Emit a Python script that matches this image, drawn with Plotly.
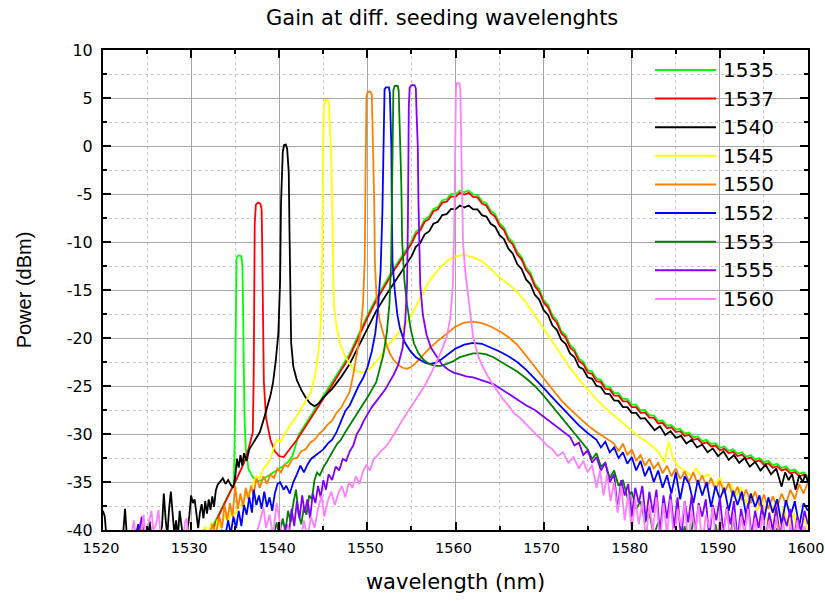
import plotly.graph_objects as go

# ---------------------------------------------------------------------------
# Measured output spectra (wavelength in nm, power in dBm), one per seed line
# ---------------------------------------------------------------------------
spec_1535 = [
    (1531.5, -41.0), (1532.0, -40.3), (1532.5, -39.5), (1533.0, -38.6), (1533.5, -37.7),
    (1534.0, -36.8), (1534.5, -35.9), (1534.85, -35.2), (1534.95, -30.0), (1535.02, -20.0),
    (1535.08, -13.5), (1535.15, -11.7), (1535.3, -11.45), (1535.5, -11.4), (1535.7, -11.5),
    (1535.82, -12.5), (1535.88, -16.0), (1535.95, -22.0), (1536.05, -28.0), (1536.2, -31.5),
    (1536.5, -33.6), (1537.0, -34.5), (1537.5, -34.9), (1538.0, -34.8), (1538.5, -34.5),
    (1539.0, -34.2), (1539.5, -33.9), (1540.0, -33.6), (1540.5, -33.3), (1541.0, -32.9),
    (1541.5, -32.3), (1542.2, -30.1), (1543, -28.95), (1544, -27.55), (1545, -26.15),
    (1546, -24.65), (1547, -23.15), (1548, -21.65), (1549, -19.65), (1550, -17.65),
    (1551, -15.85), (1552, -14.25), (1553, -12.75), (1554, -11.35), (1555, -9.95),
    (1555.5, -8.95), (1556, -8.55), (1556.5, -7.65), (1557, -7.35), (1557.5, -6.55),
    (1558, -6.35), (1558.5, -5.65), (1559, -5.55), (1559.5, -5.0), (1560, -5.05),
    (1560.5, -4.63), (1561, -4.8), (1561.5, -4.63), (1562, -5.05), (1562.5, -5.1),
    (1563, -5.75), (1563.5, -5.95), (1564, -6.75), (1564.5, -7.1), (1565, -8.05),
    (1565.5, -8.5), (1566, -9.55), (1566.5, -10.0), (1567, -11.05), (1567.5, -11.55),
    (1568, -12.65), (1568.5, -13.2), (1569, -14.35), (1569.5, -14.9), (1570, -16.05),
    (1570.5, -16.55), (1571, -17.65), (1571.5, -18.15), (1572, -19.25), (1572.5, -19.7),
    (1573, -20.75), (1573.5, -21.15), (1574, -22.15), (1574.5, -22.45), (1575, -23.35),
    (1575.5, -23.5), (1576, -24.25), (1576.5, -24.35), (1577, -25.05), (1577.5, -25.1),
    (1578, -25.75), (1578.5, -25.75), (1579, -26.35), (1579.5, -26.35), (1580, -26.95),
    (1580.5, -26.95), (1581, -27.55), (1581.5, -27.5), (1582, -28.05), (1582.5, -28.05),
    (1583, -28.65), (1583.5, -28.6), (1584, -29.15), (1584.5, -29.05), (1585, -29.55),
    (1585.5, -29.45), (1586, -29.95), (1586.5, -29.85), (1587, -30.35), (1587.5, -30.25),
    (1588, -30.75), (1588.5, -30.6), (1589, -31.05), (1589.5, -30.95), (1590, -31.45),
    (1590.5, -31.3), (1591, -31.75), (1591.5, -31.6), (1592, -32.05), (1592.5, -31.9),
    (1593, -32.35), (1593.5, -32.2), (1594, -32.65), (1594.5, -32.5), (1595, -32.95),
    (1595.5, -32.8), (1596, -33.25), (1596.5, -33.1), (1597, -33.55), (1597.5, -33.4),
    (1598, -33.85), (1598.5, -33.7), (1599, -34.15), (1599.5, -34.0), (1600, -34.45),
]

spec_1537 = [
    (1532.0, -41.0), (1532.5, -39.8), (1533.0, -38.8), (1533.5, -37.8), (1534.0, -36.8),
    (1534.5, -35.9), (1535.0, -35.0), (1535.5, -34.0), (1536.0, -33.0), (1536.5, -31.6),
    (1537.0, -29.8), (1537.1, -24.0), (1537.15, -15.0), (1537.22, -8.0), (1537.35, -6.1),
    (1537.6, -5.9), (1537.85, -6.0), (1538.0, -6.6), (1538.05, -9.5), (1538.1, -14.0),
    (1538.15, -19.0), (1538.25, -24.5), (1538.5, -28.3), (1539.0, -30.6), (1539.5, -31.8),
    (1540.0, -32.3), (1540.5, -32.4), (1541, -31.8), (1542, -30.6), (1543, -29.2),
    (1544, -27.8), (1545, -26.4), (1546, -24.9), (1547, -23.4), (1548, -21.9),
    (1549, -19.9), (1550, -17.9), (1551, -16.1), (1552, -14.5), (1553, -13.0),
    (1554, -11.6), (1555, -10.2), (1555.5, -9.2), (1556, -8.8), (1556.5, -7.9),
    (1557, -7.6), (1557.5, -6.8), (1558, -6.6), (1558.5, -5.9), (1559, -5.8),
    (1559.5, -5.25), (1560, -5.3), (1560.5, -4.88), (1561, -5.05), (1561.5, -4.88),
    (1562, -5.3), (1562.5, -5.35), (1563, -6.0), (1563.5, -6.2), (1564, -7.0),
    (1564.5, -7.35), (1565, -8.3), (1565.5, -8.75), (1566, -9.8), (1566.5, -10.25),
    (1567, -11.3), (1567.5, -11.8), (1568, -12.9), (1568.5, -13.45), (1569, -14.6),
    (1569.5, -15.15), (1570, -16.3), (1570.5, -16.8), (1571, -17.9), (1571.5, -18.4),
    (1572, -19.5), (1572.5, -19.95), (1573, -21.0), (1573.5, -21.4), (1574, -22.4),
    (1574.5, -22.7), (1575, -23.6), (1575.5, -23.75), (1576, -24.5), (1576.5, -24.6),
    (1577, -25.3), (1577.5, -25.35), (1578, -26.0), (1578.5, -26.0), (1579, -26.6),
    (1579.5, -26.6), (1580, -27.2), (1580.5, -27.2), (1581, -27.8), (1581.5, -27.75),
    (1582, -28.3), (1582.5, -28.3), (1583, -28.9), (1583.5, -28.85), (1584, -29.4),
    (1584.5, -29.3), (1585, -29.8), (1585.5, -29.7), (1586, -30.2), (1586.5, -30.1),
    (1587, -30.6), (1587.5, -30.5), (1588, -31.0), (1588.5, -30.85), (1589, -31.3),
    (1589.5, -31.2), (1590, -31.7), (1590.5, -31.55), (1591, -32.0), (1591.5, -31.85),
    (1592, -32.3), (1592.5, -32.15), (1593, -32.6), (1593.5, -32.45), (1594, -32.9),
    (1594.5, -32.75), (1595, -33.2), (1595.5, -33.05), (1596, -33.5), (1596.5, -33.35),
    (1597, -33.8), (1597.5, -33.65), (1598, -34.1), (1598.5, -33.95), (1599, -34.4),
    (1599.5, -34.25), (1600, -34.7),
]

spec_1540 = [
    (1520.0, -38.0), (1520.2, -38.6), (1520.4, -40.8), (1521.0, -41.5), (1522.0, -41.2),
    (1522.3, -40.2), (1522.5, -37.8), (1522.7, -40.5), (1523.2, -41.5), (1524.5, -41.5),
    (1525.1, -40.6), (1525.3, -39.1), (1525.5, -40.8), (1526.3, -41.2), (1526.7, -39.6),
    (1526.9, -36.2), (1527.1, -38.8), (1527.3, -40.6), (1527.5, -37.8), (1527.7, -36.0),
    (1527.9, -38.3), (1528.1, -40.4), (1528.3, -39.0), (1528.5, -40.8), (1528.7, -38.0),
    (1528.9, -39.8), (1529.1, -41.0), (1529.5, -40.6), (1529.8, -38.5), (1530.0, -36.4),
    (1530.2, -37.2), (1530.4, -36.8), (1530.6, -38.1), (1530.8, -39.8), (1531.0, -38.2),
    (1531.2, -37.3), (1531.4, -38.8), (1531.6, -37.0), (1531.8, -38.3), (1532.0, -36.8),
    (1532.2, -37.9), (1532.4, -36.5), (1532.6, -37.6), (1532.8, -35.9), (1533.0, -35.3),
    (1533.3, -35.0), (1533.6, -34.6), (1533.9, -35.2), (1534.2, -34.8), (1534.5, -35.3),
    (1534.8, -35.6), (1535.0, -34.5), (1535.2, -32.6), (1535.4, -33.5), (1535.6, -32.2),
    (1535.8, -33.3), (1536.0, -32.0), (1536.3, -32.8), (1536.6, -31.6), (1537.0, -31.0),
    (1537.4, -30.4), (1537.8, -29.8), (1538.2, -28.6), (1538.6, -27.4), (1539.0, -26.0),
    (1539.3, -24.6), (1539.6, -22.4), (1539.9, -19.5), (1540.1, -14.0), (1540.2, -6.0),
    (1540.3, -2.8), (1540.4, -0.6), (1540.55, 0.1), (1540.75, 0.15), (1540.9, -0.3),
    (1541.0, -2.0), (1541.08, -2.8), (1541.15, -8.0), (1541.22, -15.0), (1541.35, -20.5),
    (1541.6, -23.0), (1542.0, -24.4), (1542.5, -25.4), (1543.0, -26.2), (1543.5, -26.8),
    (1544.0, -27.1), (1544.5, -26.8), (1545.0, -26.2), (1546, -25.3), (1547, -24.1),
    (1548, -22.7), (1549, -20.9), (1550, -19.0), (1551, -17.2), (1552, -15.7),
    (1553, -14.3), (1554, -12.9), (1555, -11.5), (1555.5, -10.5), (1556, -10.1),
    (1556.5, -9.2), (1557, -8.9), (1557.5, -8.1), (1558, -7.9), (1558.5, -7.2),
    (1559, -7.1), (1559.5, -6.55), (1560, -6.6), (1560.5, -6.2), (1561, -6.4),
    (1561.5, -6.2), (1562, -6.6), (1562.5, -6.6), (1563, -7.2), (1563.5, -7.35),
    (1564, -8.1), (1564.5, -8.4), (1565, -9.3), (1565.5, -9.7), (1566, -10.7),
    (1566.5, -11.2), (1567, -12.3), (1567.5, -12.8), (1568, -13.9), (1568.5, -14.4),
    (1569, -15.5), (1569.5, -16.0), (1570, -17.1), (1570.5, -17.6), (1571, -18.7),
    (1571.5, -19.15), (1572, -20.2), (1572.5, -20.6), (1573, -21.6), (1573.5, -22.0),
    (1574, -23.0), (1574.5, -23.25), (1575, -24.1), (1575.5, -24.25), (1576, -25.0),
    (1576.5, -25.1), (1577, -25.8), (1577.5, -25.85), (1578, -26.5), (1578.5, -26.55),
    (1579, -27.2), (1579.5, -27.2), (1580, -27.8), (1580.5, -27.8), (1581, -28.4),
    (1581.5, -28.35), (1582, -28.9),
    (1582.6, -29.6), (1583.2, -29.2), (1583.8, -30.1), (1584.4, -29.7), (1585.0, -30.4),
    (1585.6, -30.2), (1586.2, -31.0), (1586.8, -30.6), (1587.4, -31.4), (1588.0, -31.1),
    (1588.6, -31.9), (1589.2, -31.5), (1589.8, -32.3), (1590.4, -31.8), (1591.0, -32.7),
    (1591.6, -32.2), (1592.2, -33.0), (1592.8, -32.5), (1593.4, -33.4), (1594.0, -32.9),
    (1594.6, -33.8), (1595.2, -33.2), (1595.8, -34.2), (1596.4, -33.6), (1597.0, -35.5),
    (1597.4, -34.0), (1597.8, -34.8), (1598.2, -34.2), (1598.6, -35.8), (1599.0, -34.3),
    (1599.4, -35.0), (1599.7, -34.2), (1600.0, -35.0),
]

spec_1545 = [
    (1530.5, -41.5), (1531.2, -40.8), (1531.6, -39.6), (1531.9, -40.8), (1532.3, -39.2),
    (1532.6, -40.4), (1533.0, -38.9), (1533.4, -39.8), (1533.8, -38.4), (1534.2, -39.2),
    (1534.6, -37.8), (1535.0, -38.4), (1535.4, -37.2), (1535.8, -37.6), (1536.2, -36.4),
    (1536.6, -36.0), (1537.0, -35.2), (1537.4, -34.4), (1537.8, -34.6), (1538.2, -33.6),
    (1538.6, -33.2), (1539.0, -32.6), (1539.4, -31.4), (1539.7, -30.6), (1540.1, -30.8),
    (1540.5, -30.2), (1541.0, -29.4), (1541.5, -28.7), (1542.0, -28.1), (1542.5, -27.3),
    (1543.0, -26.6), (1543.5, -25.8), (1544.0, -24.2), (1544.3, -22.5), (1544.6, -20.0),
    (1544.8, -17.0), (1544.88, -10.0), (1544.93, -3.0), (1545.0, 1.5), (1545.08, 4.3),
    (1545.25, 4.8), (1545.5, 4.8), (1545.65, 4.3), (1545.8, 1.0), (1545.9, -0.8),
    (1546.0, -6.0), (1546.07, -12.0), (1546.2, -16.5), (1546.5, -18.8), (1546.9, -20.6),
    (1547.4, -21.8), (1548.0, -22.7), (1548.5, -23.3), (1549.0, -23.5), (1549.5, -23.6),
    (1550.0, -23.4), (1550.5, -23.0), (1551.0, -22.5), (1551.5, -21.9), (1552, -21.1),
    (1553, -20.1), (1554, -19.0), (1555, -17.6), (1556, -15.8), (1557, -14.1),
    (1558, -12.9), (1559, -12.0), (1560, -11.5), (1561, -11.35), (1562, -11.6),
    (1563, -12.0), (1564, -12.8), (1565, -13.7), (1566, -14.4), (1567, -15.2),
    (1568, -16.3), (1569, -17.6), (1570, -19.0), (1571, -20.4), (1572, -21.8),
    (1573, -23.1), (1574, -24.3), (1575, -25.4), (1576, -26.4), (1577, -27.3),
    (1578, -28.1), (1579, -28.9), (1580, -29.7), (1581, -30.4), (1582, -31.0),
    (1583, -31.8), (1583.7, -33.0), (1584.2, -30.8), (1584.7, -32.6), (1585.3, -33.4),
    (1586.0, -33.8), (1586.7, -34.3), (1587.3, -33.6), (1588.0, -34.6), (1588.7, -34.2),
    (1589.4, -35.2), (1590.0, -34.6), (1590.6, -35.9), (1591.2, -35.2), (1591.8, -36.4),
    (1592.4, -35.6), (1593.0, -37.2), (1593.6, -36.2), (1594.2, -38.0), (1594.8, -36.8),
    (1595.4, -39.2), (1596.0, -37.4), (1596.6, -40.5), (1597.2, -37.6), (1597.8, -39.6),
    (1598.4, -38.2), (1599.0, -41.0), (1599.5, -38.5), (1600.0, -40.0),
]

spec_1550 = [
    (1523.5, -41.5), (1524.0, -40.2), (1524.3, -39.6), (1524.6, -40.8), (1525.5, -41.5),
    (1528.0, -41.5), (1528.5, -40.3), (1528.8, -41.2), (1530.0, -41.5), (1531.0, -40.8),
    (1531.5, -40.0), (1532.0, -41.0), (1532.4, -39.4), (1532.8, -40.5), (1533.2, -38.6),
    (1533.5, -39.8), (1533.8, -37.4), (1534.1, -39.0), (1534.4, -37.2), (1534.7, -38.6),
    (1535.0, -35.4), (1535.3, -37.8), (1535.6, -36.2), (1535.9, -37.6), (1536.2, -35.6),
    (1536.5, -36.8), (1536.8, -35.4), (1537.1, -36.4), (1537.4, -34.6), (1537.8, -35.6),
    (1538.2, -34.4), (1538.6, -35.2), (1539.0, -34.2), (1539.4, -34.6), (1539.8, -33.6),
    (1540.2, -34.0), (1540.6, -33.2), (1541.0, -33.4), (1541.5, -32.6), (1542.0, -32.5),
    (1542.5, -31.8), (1543.0, -31.6), (1543.5, -30.9), (1544.0, -30.6), (1544.5, -30.0),
    (1545.0, -29.6), (1545.5, -29.0), (1546.0, -28.6), (1546.5, -27.8), (1547.0, -27.3),
    (1547.5, -26.4), (1548.0, -25.6), (1548.4, -23.8), (1548.8, -21.8), (1549.2, -19.5),
    (1549.5, -16.5), (1549.7, -12.0), (1549.78, -4.0), (1549.83, 2.0), (1549.9, 5.2),
    (1550.05, 5.65), (1550.35, 5.65), (1550.5, 5.4), (1550.6, 2.0), (1550.7, -0.8),
    (1550.78, -6.0), (1550.85, -12.0), (1551.05, -16.0), (1551.4, -18.2), (1551.8, -19.6),
    (1552.2, -20.8), (1552.6, -21.7), (1553.0, -22.3), (1553.5, -22.8), (1554.0, -23.1),
    (1554.5, -23.2), (1555.0, -23.0), (1555.5, -22.6), (1556, -22.1), (1557, -21.1),
    (1558, -20.3), (1559, -19.5), (1560, -18.8), (1561, -18.4), (1562, -18.3),
    (1563, -18.45), (1564, -18.8), (1565, -19.3), (1566, -19.9), (1567, -20.7),
    (1568, -21.8), (1569, -23.0), (1570, -24.2), (1571, -25.4), (1572, -26.5),
    (1573, -27.4), (1574, -28.3), (1575, -29.1), (1576, -29.8), (1577, -30.4),
    (1578, -31.0), (1578.5, -31.8), (1579, -31.0), (1579.5, -32.2), (1580, -31.6),
    (1580.5, -32.8), (1581, -32.2), (1581.5, -33.3), (1582, -32.6), (1582.5, -33.6),
    (1583, -33.0), (1583.5, -34.1), (1584, -33.3), (1584.5, -34.4), (1585, -33.6),
    (1585.5, -34.7), (1586, -33.9), (1586.5, -35.0), (1587, -34.0), (1587.5, -35.3),
    (1588, -34.3), (1588.5, -35.6), (1589, -34.6), (1589.5, -35.8), (1590, -34.9),
    (1590.5, -36.2), (1591, -35.1), (1591.5, -36.5), (1592, -35.5), (1592.5, -36.9),
    (1593, -35.8), (1593.5, -37.2), (1594, -36.0), (1594.5, -37.5), (1595, -36.3),
    (1595.5, -37.8), (1596, -36.5), (1596.5, -37.6), (1597, -36.2), (1597.5, -37.3),
    (1598, -35.8), (1598.5, -36.8), (1599, -35.2), (1599.5, -36.2), (1600, -35.0),
]

spec_1552 = [
    (1523.5, -41.5), (1524.0, -39.4), (1524.2, -40.8), (1525.0, -41.5), (1527.5, -41.5),
    (1528.0, -40.2), (1528.3, -41.3), (1532.0, -41.5), (1533.0, -41.0), (1533.5, -40.0),
    (1533.8, -41.0), (1534.2, -39.0), (1534.5, -40.4), (1534.8, -38.6), (1535.1, -39.8),
    (1535.4, -38.0), (1535.7, -39.6), (1536.0, -37.4), (1536.3, -38.4), (1536.6, -36.6),
    (1536.9, -38.2), (1537.1, -35.8), (1537.4, -37.4), (1537.7, -36.4), (1538.0, -37.8),
    (1538.3, -36.0), (1538.6, -37.6), (1538.9, -36.6), (1539.2, -38.0), (1539.5, -36.2),
    (1539.8, -35.2), (1540.1, -35.0), (1540.5, -35.8), (1540.8, -35.4), (1541.2, -36.2),
    (1541.6, -35.0), (1542.0, -34.2), (1542.4, -33.3), (1542.8, -34.0), (1543.2, -33.2),
    (1543.6, -32.6), (1544.0, -32.3), (1544.5, -32.0), (1545.0, -31.6), (1545.5, -31.0),
    (1546.0, -30.6), (1546.5, -29.8), (1547.0, -28.6), (1547.5, -27.6), (1548.0, -27.0),
    (1548.5, -25.9), (1549.0, -25.0), (1549.5, -24.2), (1550.0, -23.1), (1550.5, -21.4),
    (1550.9, -19.5), (1551.2, -17.0), (1551.5, -13.0), (1551.7, -7.0), (1551.8, -1.0),
    (1551.85, 4.0), (1551.95, 5.9), (1552.1, 6.1), (1552.45, 6.1), (1552.55, 5.5),
    (1552.65, 3.0), (1552.72, 0.0), (1552.77, -6.0), (1552.85, -12.0), (1553.1, -15.0),
    (1553.4, -17.6), (1553.7, -19.0), (1554.2, -20.4), (1554.9, -21.4), (1555.5, -22.0),
    (1556.0, -22.3), (1556.6, -22.6), (1557.1, -22.7), (1557.7, -22.6), (1558.3, -22.3),
    (1559, -21.8), (1560, -21.1), (1561, -20.7), (1562, -20.5), (1563, -20.6),
    (1564, -21.0), (1565, -21.4), (1566, -21.9), (1567, -22.5), (1568, -23.3),
    (1569, -24.2), (1570, -25.2), (1571, -26.2), (1572, -27.2), (1573, -28.2),
    (1574, -29.1), (1575, -29.9), (1576, -30.6), (1576.5, -31.4), (1577, -30.8),
    (1577.5, -31.9), (1578, -31.4), (1578.5, -32.5), (1579, -31.9), (1579.5, -33.1),
    (1580, -32.4), (1580.5, -33.8), (1581, -32.8), (1581.5, -34.4), (1582, -33.4),
    (1582.5, -35.0), (1583, -33.8), (1583.5, -35.6), (1584, -34.3), (1584.5, -36.2),
    (1585, -34.0), (1585.5, -36.8), (1586, -34.4), (1586.5, -35.2), (1587, -37.2),
    (1587.5, -34.8), (1588, -36.4), (1588.5, -35.0), (1589, -37.6), (1589.5, -35.4),
    (1590, -36.8), (1590.5, -35.6), (1591, -38.0), (1591.5, -35.9), (1592, -37.4),
    (1592.5, -36.0), (1593, -38.6), (1593.5, -36.2), (1594, -37.6), (1594.5, -36.4),
    (1595, -39.0), (1595.5, -36.6), (1596, -38.2), (1596.5, -36.8), (1597, -39.4),
    (1597.5, -36.9), (1598, -38.6), (1598.5, -37.0), (1599, -39.6), (1599.5, -37.2),
    (1600, -38.0),
]

spec_1553 = [
    (1537.0, -41.5), (1538.5, -41.2), (1539.0, -40.0), (1539.3, -41.0), (1539.7, -39.2),
    (1540.0, -40.6), (1540.4, -38.8), (1540.7, -40.2), (1541.0, -38.0), (1541.3, -39.2),
    (1541.6, -37.2), (1541.9, -35.8), (1542.2, -38.4), (1542.5, -39.4), (1542.8, -37.6),
    (1543.1, -38.4), (1543.4, -36.4), (1543.7, -36.8), (1544.0, -34.8), (1544.3, -34.0),
    (1544.6, -34.3), (1545.0, -33.5), (1545.4, -32.9), (1545.8, -32.2), (1546.2, -31.6),
    (1546.6, -31.0), (1547.0, -30.6), (1547.5, -29.8), (1548.0, -29.1), (1548.5, -28.4),
    (1549.0, -27.7), (1549.5, -27.0), (1550.0, -26.2), (1550.5, -25.4), (1551.0, -24.6),
    (1551.4, -23.2), (1551.8, -21.8), (1552.2, -19.5), (1552.5, -16.5), (1552.7, -12.0),
    (1552.82, -5.0), (1552.88, 2.0), (1552.95, 5.8), (1553.1, 6.25), (1553.45, 6.25),
    (1553.55, 5.8), (1553.65, 3.0), (1553.75, 0.5), (1553.85, -4.0), (1553.95, -10.0),
    (1554.2, -14.0), (1554.5, -16.5), (1554.9, -19.0), (1555.3, -20.6), (1555.8, -21.6),
    (1556.4, -22.3), (1557.0, -22.7), (1557.7, -22.9), (1558.3, -22.9), (1559.0, -22.7),
    (1559.8, -22.4), (1560.5, -22.0), (1561.2, -21.8), (1562.0, -21.6), (1562.8, -21.6),
    (1563.5, -21.7), (1564.3, -22.0), (1565, -22.4), (1566, -22.9), (1567, -23.5),
    (1568, -24.2), (1569, -25.0), (1570, -26.0), (1571, -27.1), (1572, -28.2),
    (1573, -29.3), (1574, -30.4), (1575, -31.6), (1575.5, -32.6), (1576, -32.0),
    (1576.5, -33.4), (1577, -33.0), (1577.5, -34.6), (1578, -33.8), (1578.5, -35.4),
    (1579, -34.8), (1579.5, -36.6), (1580, -36.0), (1580.5, -37.8), (1581, -37.0),
    (1581.5, -39.2), (1582, -38.2), (1582.5, -40.6), (1583, -39.2), (1583.5, -41.5),
    (1584, -39.8), (1584.5, -42.0), (1585, -40.4), (1585.5, -42.0), (1586, -39.6),
    (1586.5, -41.8), (1587, -38.8), (1587.5, -41.5), (1588.0, -42.0), (1589, -42.0),
    (1589.5, -39.4), (1590, -41.8), (1591, -42.0), (1591.5, -38.6), (1592, -41.6),
    (1593, -42.0), (1594, -40.6), (1594.5, -42.0), (1596, -42.0), (1596.5, -39.8),
    (1597, -42.0), (1600, -42.0),
]

spec_1555 = [
    (1523.8, -41.5), (1524.2, -39.8), (1524.4, -38.6), (1524.6, -40.6), (1525.0, -41.5),
    (1526.5, -41.5), (1527.0, -40.0), (1527.2, -41.2), (1530.0, -41.5), (1536.0, -41.5),
    (1539.5, -41.2), (1540.0, -40.2), (1540.4, -41.0), (1540.8, -39.4), (1541.1, -40.4),
    (1541.4, -37.8), (1541.7, -39.6), (1542.0, -37.0), (1542.3, -38.8), (1542.6, -36.4),
    (1542.9, -38.2), (1543.2, -36.8), (1543.5, -38.8), (1543.8, -36.2), (1544.1, -37.2),
    (1544.4, -35.4), (1544.7, -36.6), (1545.0, -34.8), (1545.3, -35.8), (1545.6, -34.2),
    (1546.0, -34.8), (1546.4, -33.4), (1546.8, -33.8), (1547.2, -32.6), (1547.6, -32.8),
    (1548.0, -31.8), (1548.4, -31.2), (1548.8, -30.0), (1549.2, -29.4), (1549.6, -28.6),
    (1550.0, -28.0), (1550.5, -27.2), (1551.0, -26.6), (1551.5, -26.0), (1552.0, -25.4),
    (1552.5, -24.6), (1553.0, -23.8), (1553.5, -22.8), (1554.0, -21.0), (1554.3, -18.2),
    (1554.5, -14.5), (1554.6, -8.0), (1554.65, 0.0), (1554.7, 4.0), (1554.8, 6.1),
    (1555.0, 6.35), (1555.35, 6.35), (1555.5, 6.0), (1555.58, 3.5), (1555.65, 2.2),
    (1555.72, 0.0), (1555.8, -6.0), (1555.9, -12.0), (1556.0, -14.5), (1556.3, -17.6),
    (1556.7, -19.6), (1557.2, -21.0), (1557.9, -22.0), (1558.5, -22.8), (1559.2, -23.3),
    (1559.8, -23.6), (1560.5, -23.8), (1561.2, -24.0), (1562.0, -24.1), (1562.7, -24.3),
    (1563.5, -24.5), (1564.3, -24.8), (1565, -25.2), (1566, -25.8), (1567, -26.4),
    (1568, -27.0), (1569, -27.5), (1570, -28.2), (1571, -28.9), (1572, -29.6),
    (1573, -30.3), (1573.5, -31.2), (1574, -30.9), (1574.5, -32.2), (1575, -31.7),
    (1575.5, -33.0), (1576, -32.4), (1576.5, -33.8), (1577, -33.0), (1577.5, -35.0),
    (1578, -34.2), (1578.4, -37.9), (1578.8, -34.8), (1579.2, -36.4), (1579.6, -35.2),
    (1580, -38.6), (1580.4, -35.6), (1580.8, -37.2), (1581.2, -35.4), (1581.6, -39.0),
    (1582, -36.0), (1582.4, -38.2), (1582.8, -35.8), (1583.2, -40.4), (1583.6, -36.4),
    (1584, -38.8), (1584.4, -36.2), (1584.8, -39.8), (1585.2, -36.6), (1585.6, -41.0),
    (1586, -37.0), (1586.4, -39.2), (1586.8, -36.4), (1587.2, -40.2), (1587.6, -37.2),
    (1588, -38.6), (1588.4, -36.8), (1588.8, -40.8), (1589.2, -37.4), (1589.6, -39.0),
    (1590, -36.6), (1590.4, -40.4), (1590.8, -37.6), (1591.2, -39.4), (1591.6, -37.0),
    (1592, -41.0), (1592.4, -37.8), (1592.8, -39.6), (1593.2, -37.2), (1593.6, -40.6),
    (1594, -38.0), (1594.4, -39.8), (1594.8, -37.4), (1595.2, -41.2), (1595.6, -38.2),
    (1596, -40.0), (1596.4, -37.6), (1596.8, -40.8), (1597.2, -38.4), (1597.6, -39.6),
    (1598, -37.8), (1598.4, -41.0), (1598.8, -38.6), (1599.2, -40.2), (1599.6, -38.0),
    (1600, -39.4),
]

spec_1560 = [
    (1522.5, -41.5), (1523.3, -40.2), (1523.5, -39.0), (1523.7, -40.6), (1524.3, -41.0),
    (1524.6, -38.4), (1524.8, -40.4), (1525.2, -39.2), (1525.5, -38.0), (1525.7, -40.0),
    (1526.0, -39.5), (1526.3, -37.9), (1526.5, -40.2), (1527.0, -41.5), (1529.0, -41.5),
    (1529.3, -39.2), (1529.5, -38.8), (1529.7, -41.0), (1531.0, -41.5), (1537.0, -41.5),
    (1537.8, -39.2), (1538.2, -37.6), (1538.5, -39.8), (1538.9, -38.4), (1539.3, -40.6),
    (1539.7, -37.2), (1540.1, -39.4), (1540.5, -41.2), (1541.0, -39.6), (1541.5, -41.5),
    (1542.0, -40.2), (1542.4, -41.2), (1542.8, -39.0), (1543.2, -40.8), (1543.6, -38.6),
    (1544.0, -39.8), (1544.4, -37.8), (1544.8, -36.4), (1545.1, -38.6), (1545.5, -37.0),
    (1545.9, -36.0), (1546.3, -37.4), (1546.7, -36.2), (1547.1, -35.4), (1547.5, -36.6),
    (1547.9, -35.0), (1548.3, -35.6), (1548.7, -34.4), (1549.1, -35.2), (1549.5, -33.9),
    (1549.9, -33.2), (1550.3, -33.8), (1550.7, -32.6), (1551.1, -32.3), (1551.5, -31.8),
    (1552.0, -31.4), (1552.5, -30.8), (1553.0, -30.1), (1553.5, -29.3), (1554.0, -28.5),
    (1554.5, -27.8), (1555.0, -27.1), (1555.5, -26.5), (1556.0, -25.8), (1556.5, -25.0),
    (1557.0, -24.1), (1557.5, -23.2), (1558.0, -22.2), (1558.5, -21.1), (1559.0, -19.9),
    (1559.4, -18.0), (1559.7, -14.5), (1559.85, -9.0), (1559.95, -2.0), (1560.0, 3.0),
    (1560.05, 5.8), (1560.15, 6.55), (1560.45, 6.55), (1560.55, 5.8), (1560.62, 2.0),
    (1560.7, -4.0), (1560.85, -10.0), (1561.1, -13.0), (1561.5, -16.0), (1562.0, -19.9),
    (1562.6, -22.0), (1563.2, -23.2), (1564.0, -24.5), (1564.7, -25.4), (1565.4, -26.4),
    (1566.0, -27.0), (1566.6, -27.8), (1567.3, -28.3), (1568.0, -29.0), (1568.6, -29.6),
    (1569.2, -30.1), (1569.8, -30.6), (1570.4, -31.2), (1571.0, -31.6), (1571.6, -32.3),
    (1572.2, -31.9), (1572.8, -33.0), (1573.4, -32.4), (1574.0, -33.6), (1574.5, -32.8),
    (1575.0, -34.0), (1575.5, -33.2), (1576.0, -35.6), (1576.4, -33.8), (1576.8, -36.4),
    (1577.2, -34.2), (1577.6, -37.0), (1578.0, -35.0), (1578.4, -38.2), (1578.8, -35.4),
    (1579.2, -39.0), (1579.6, -36.2), (1580.0, -40.2), (1580.4, -36.8), (1580.8, -39.4),
    (1581.2, -37.0), (1581.6, -41.0), (1582.0, -37.4), (1582.4, -40.0), (1582.8, -36.6),
    (1583.2, -41.5), (1583.6, -37.2), (1584.0, -40.4), (1584.4, -36.8), (1584.8, -41.2),
    (1585.2, -37.8), (1585.6, -39.6), (1586.0, -37.0), (1586.4, -41.6), (1586.8, -38.0),
    (1587.2, -40.2), (1587.6, -37.4), (1588.0, -41.8), (1588.4, -38.4), (1588.8, -39.8),
    (1589.2, -37.6), (1589.6, -42.0), (1590.0, -38.8), (1590.4, -40.6), (1590.8, -37.8),
    (1591.2, -41.4), (1591.6, -38.2), (1592.0, -42.0), (1592.4, -38.6), (1592.8, -40.4),
    (1593.2, -37.8), (1593.6, -41.2), (1594.0, -38.8), (1594.4, -42.0), (1594.8, -38.4),
    (1595.2, -40.8), (1595.6, -39.0), (1596.0, -42.0), (1596.4, -38.6), (1596.8, -41.0),
    (1597.2, -39.2), (1597.6, -42.0), (1598.0, -39.4), (1598.4, -41.4), (1598.8, -39.0),
    (1599.2, -42.0), (1599.6, -39.6), (1600.0, -41.0),
]

series_names = ["1535", "1537", "1540", "1545", "1550", "1552", "1553", "1555", "1560"]
series_data = [spec_1535, spec_1537, spec_1540, spec_1545, spec_1550,
               spec_1552, spec_1553, spec_1555, spec_1560]
series_colors = ["#00ff00", "#ff0000", "#000000", "#ffff00", "#ff8000",
                 "#0000ff", "#008000", "#8000ff", "#ff80ff"]

x_ticks = [1520, 1530, 1540, 1550, 1560, 1570, 1580, 1590, 1600]
y_ticks = [-40, -35, -30, -25, -20, -15, -10, -5, 0, 5, 10]
y_tick_text = ["-40", "-35", "-30", "-25", "-20", "-15", "-10", "-5", "0", "5", "10"]

# ---------------------------------------------------------------------------
FONT = "DejaVu Sans, Arial, sans-serif"

fig = go.Figure()
for name, data, color in zip(series_names, series_data, series_colors):
    wl, pw = zip(*sorted(data))
    fig.add_trace(go.Scatter(
        x=list(wl), y=list(pw), mode="lines", name=name,
        line=dict(color=color, width=1.8), showlegend=False,
    ))

axis_common = dict(
    showline=True, linecolor="black", linewidth=2, mirror="ticks",
    ticks="inside", ticklen=8, tickwidth=1.5, tickcolor="black",
    showgrid=True, gridcolor="#a6a6a6", gridwidth=1, zeroline=False,
    automargin=False,
)

fig.update_xaxes(
    range=[1520, 1600], tickvals=x_ticks, ticklabeloverflow="allow",
    ticklabelstandoff=4, ticklabelshift=-2,
    tickfont=dict(family=FONT, size=14.5, color="black"),
    minor=dict(dtick=5, ticks="inside", ticklen=4, tickcolor="black",
               showgrid=True, gridcolor="#c8c8c8", griddash="dot", gridwidth=1),
    title=dict(text="wavelength (nm)", font=dict(family=FONT, size=21, color="black"),
               standoff=19),
    **axis_common,
)
fig.update_yaxes(
    range=[-40, 10], tickvals=y_ticks, ticktext=y_tick_text,
    ticklabelstandoff=5,
    tickfont=dict(family=FONT, size=16, color="black"),
    minor=dict(dtick=2.5, ticks="inside", ticklen=4, tickcolor="black",
               showgrid=True, gridcolor="#c8c8c8", griddash="dot", gridwidth=1),
    title=dict(text="Power (dBm)", font=dict(family="Liberation Sans, Arial, sans-serif",
                                             size=20, color="black"),
               standoff=30),
    **axis_common,
)

# Legend panel: white box over the grid with a line sample and label per series
fig.add_shape(type="rect", xref="paper", yref="paper", x0=0.762, x1=1.0, y0=0.431, y1=1.0,
              fillcolor="white", line=dict(width=0), layer="between")
row_top, row_step = 0.9583, 0.0596
for i, (name, color) in enumerate(zip(series_names, series_colors)):
    yy = row_top - i * row_step
    fig.add_shape(type="line", xref="paper", yref="paper", x0=0.783, x1=0.8695,
                  y0=yy, y1=yy, line=dict(color=color, width=2), layer="above")
    fig.add_annotation(xref="paper", yref="paper", x=0.876, y=yy, text=name,
                       showarrow=False, xanchor="left", yanchor="middle",
                       font=dict(family=FONT, size=20, color="black"))

fig.update_layout(
    width=825, height=601,
    margin=dict(l=103, r=17, t=50, b=71),
    paper_bgcolor="white", plot_bgcolor="white",
    title=dict(text="Gain at diff. seeding wavelenghts", x=0.536, xref="container",
               xanchor="center", y=1 - 18 / 601, yref="container", yanchor="middle",
               font=dict(family=FONT, size=21, color="black")),
)

fig.write_html("out.html")
